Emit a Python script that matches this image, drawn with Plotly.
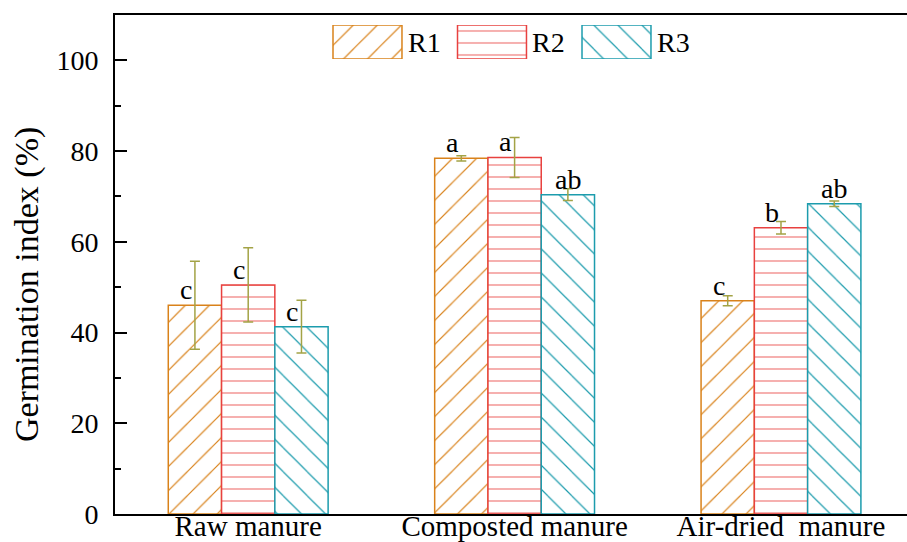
import plotly.graph_objects as go

categories = ["Raw manure", "Composted manure", "Air-dried  manure"]
series = ["R1", "R2", "R3"]
R1 = [46.0, 78.4, 47.0]
R2 = [50.5, 78.6, 63.1]
R3 = [41.3, 70.4, 68.4]
R1_err = [9.7, 0.6, 1.1]
R2_err = [8.2, 4.4, 1.4]
R3_err = [5.8, 1.3, 0.6]
R1_sig = ["c", "a", "c"]
R2_sig = ["c", "a", "b"]
R3_sig = ["c", "ab", "ab"]
y_title = "Germination index (%)"

values = [R1, R2, R3]
errors = [R1_err, R2_err, R3_err]
sigs = [R1_sig, R2_sig, R3_sig]
colors = ["#D9821A", "#E8413F", "#1C9CAD"]
shapes = ["/", "-", "\\"]
psize = [17, 12, 17]
err_color = "#A3A346"
FONT = "Liberation Serif"

def bar_marker(i):
    return dict(color="white", line=dict(color=colors[i], width=1.5),
                pattern=dict(shape=shapes[i], fgcolor=colors[i], bgcolor="white",
                             fgopacity=1, size=psize[i], solidity=0.07, fillmode="overlay"))

fig = go.Figure()
xidx = list(range(len(categories)))
for i, name in enumerate(series):
    fig.add_trace(go.Bar(
        x=xidx, y=values[i], name=name, marker=bar_marker(i),
        error_y=dict(type="data", array=errors[i], color=err_color, thickness=1.5, width=5),
        showlegend=False,
    ))

# significance letters
bw = 0.2
annotations = []
for i in range(len(series)):
    off = (i - 1) * bw
    for j in xidx:
        s = sigs[i][j]
        annotations.append(dict(
            x=j + off, y=values[i][j], xref="x", yref="y", text=s, showarrow=False,
            xanchor="center", yanchor="bottom", xshift=-9 if len(s) == 1 else 0, yshift=-2,
            font=dict(family=FONT, size=28, color="black")))

# legend drawn as a small bar subplot
leg_w = 0.554
for i, name in enumerate(series):
    fig.add_trace(go.Bar(
        x=[i], y=[1], xaxis="x2", yaxis="y2", width=leg_w, showlegend=False,
        hoverinfo="skip", marker=bar_marker(i),
    ))
    annotations.append(dict(
        x=i + leg_w / 2, y=0.5, xref="x2", yref="y2", text=name, showarrow=False,
        xanchor="left", yanchor="middle", xshift=4,
        font=dict(family=FONT, size=28, color="black")))

# y-axis title
annotations.append(dict(
    x=-0.111, y=0.459, xref="paper", yref="paper", text=y_title, showarrow=False,
    textangle=-90, xanchor="center", yanchor="middle",
    font=dict(family=FONT, size=34, color="black")))

fig.update_layout(
    width=907, height=542,
    margin=dict(l=115, r=0, t=15, b=28),
    paper_bgcolor="white", plot_bgcolor="white",
    barmode="group", bargap=0.4, bargroupgap=0,
    font=dict(family=FONT, size=28, color="black"),
    annotations=annotations,
    xaxis=dict(
        range=[-0.5, 2.473], tickvals=xidx, ticktext=categories,
        showline=True, linecolor="black", linewidth=2, mirror=True,
        ticks="", showgrid=False, zeroline=False, automargin=False,
        ticklabelstandoff=-15,
        tickfont=dict(family=FONT, size=29),
    ),
    yaxis=dict(
        range=[0, 110], tickvals=[0, 20, 40, 60, 80, 100],
        showline=True, linecolor="black", linewidth=2,
        ticks="inside", ticklen=12, tickwidth=2, tickcolor="black",
        minor=dict(ticks="inside", ticklen=6, tickwidth=2, tickcolor="black",
                   tickvals=[10, 30, 50, 70, 90]),
        ticklabelstandoff=9,
        showgrid=False, zeroline=False, automargin=False,
        tickfont=dict(family=FONT, size=28),
    ),
    xaxis2=dict(domain=[0.2402, 0.7118], range=[-0.5, 2.5], anchor="y2",
                visible=False, fixedrange=True),
    yaxis2=dict(domain=[0.9118, 0.98], range=[0, 1], anchor="x2",
                visible=False, fixedrange=True),
)

fig.write_html("out.html")
